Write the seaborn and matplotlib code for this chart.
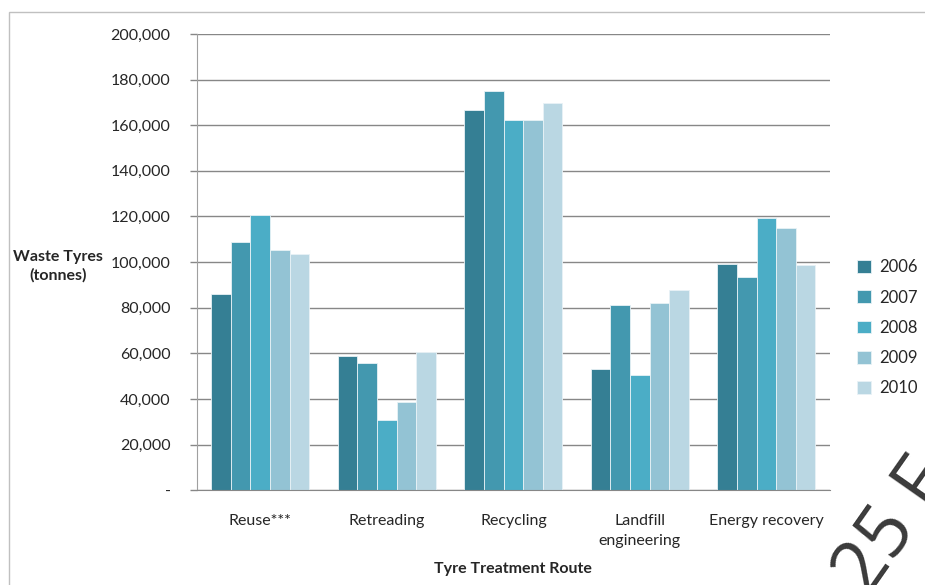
import pandas as pd
import numpy as np
import matplotlib.pyplot as plt
import matplotlib.patches as mpatches
import seaborn as sns

# values (tonnes)
routes = ["Reuse***", "Retreading", "Recycling", "Landfill\nengineering", "Energy recovery"]
years = ["2006", "2007", "2008", "2009", "2010"]
v2006 = [85900, 58800, 166600, 53000, 99200]
v2007 = [108700, 55600, 175100, 81200, 93300]
v2008 = [120700, 30600, 162400, 50300, 119400]
v2009 = [105200, 38800, 162400, 82100, 114800]
v2010 = [103400, 60600, 169700, 87800, 98800]
colors = ["#357F94", "#4398AF", "#4BADC6", "#93C3D4", "#BAD7E3"]
y_ticks = [0, 20000, 40000, 60000, 80000, 100000, 120000, 140000, 160000, 180000, 200000]

df = pd.DataFrame({"route": routes * 5,
                   "year": np.repeat(years, len(routes)),
                   "tonnes": v2006 + v2007 + v2008 + v2009 + v2010})

sns.set_style("white")
plt.rcParams["font.family"] = ["Lato", "DejaVu Sans"]

fig = plt.figure(figsize=(9.25, 5.85), dpi=100)

# light chart-area border like the Excel export
fig.patches.append(mpatches.Rectangle((9 / 925, -0.01), 1.0, 1 - 12 / 585 + 0.01,
                                      transform=fig.transFigure, fill=False,
                                      edgecolor="#C0C0C0", linewidth=1))

ax = fig.add_axes([0.213, 0.162, 0.684, 0.780])

sns.barplot(data=df, x="route", y="tonnes", hue="year", order=routes, hue_order=years,
            palette=colors, saturation=1, width=0.775, edgecolor="#E8F2F6",
            linewidth=0.6, errorbar=None, ax=ax)

ax.set_ylim(0, 200000)
ax.set_xlim(-0.5, 4.5)
ax.set_yticks(y_ticks)
ax.set_yticklabels(["-"] + [f"{t:,}" for t in y_ticks[1:]], fontsize=11.5)
ax.yaxis.grid(True, color="#878787", linewidth=1)
ax.set_axisbelow(True)

ax.set_xticks(range(len(routes)))
ax.set_xticklabels(routes, fontsize=11.5, linespacing=1.6)
ax.set_xticks(np.arange(-0.5, 5, 1), minor=True)
ax.tick_params(axis="x", which="major", length=0, pad=17)
ax.tick_params(axis="x", which="minor", length=5, color="#878787", width=1)
ax.tick_params(axis="y", length=5, color="#878787", width=1, left=True, pad=14)

for s in ["top", "right"]:
    ax.spines[s].set_visible(False)
ax.spines["left"].set_color("#A0A0A0")
ax.spines["bottom"].set_color("#878787")

ax.set_xlabel("Tyre Treatment Route", fontsize=11.5, fontweight="bold", labelpad=10)
ax.set_ylabel("")
fig.text(0.063, 0.545, "Waste Tyres\n(tonnes)", fontsize=11.5, fontweight="bold",
         ha="center", va="center", linespacing=1.3)

ax.legend(loc="center left", bbox_to_anchor=(1.02, 0.356), frameon=False,
          fontsize=12, handlelength=0.8, handleheight=0.8, labelspacing=0.85,
          handletextpad=0.5)

# watermark in the bottom-right corner (cut off like the reference)
fig.text(0.965, -0.04, "25 F", fontsize=54, rotation=55, color="#3A3A3A",
         ha="center", va="bottom", family="Open Sans", fontweight="normal")

fig.savefig("out.png", dpi=100)
